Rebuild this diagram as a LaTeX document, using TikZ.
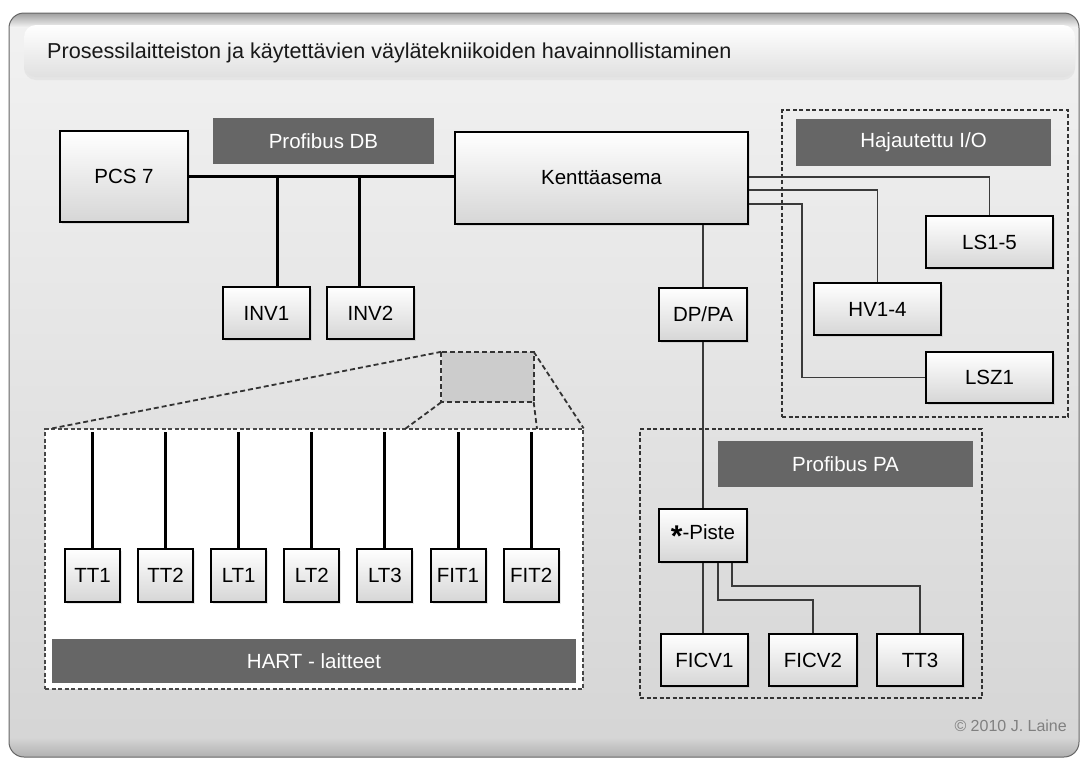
\documentclass[tikz,border=0pt]{standalone}
\usepackage{fontspec}
\setmainfont{Liberation Sans}
\usetikzlibrary{calc,shadows}
\definecolor{bannerc}{HTML}{666666}
\definecolor{boxbot}{HTML}{D6D6D6}
\definecolor{pantop}{HTML}{F2F2F2}
\definecolor{panbot}{HTML}{D5D5D5}
\definecolor{panedge}{HTML}{B0B0B0}
\definecolor{thinc}{HTML}{3A3A3A}
\definecolor{dashc}{HTML}{333333}
\begin{document}
\begin{tikzpicture}[x=1pt,y=-1pt,
  sz/.style 2 args={minimum width=#1pt, minimum height=#2pt},
  box/.style={draw=black, line width=2pt, top color=white, bottom color=boxbot, inner sep=0pt,
    drop shadow={opacity=0.18, shadow xshift=2pt, shadow yshift=-2pt},
    font=\fontsize{20.5}{24}\selectfont},
  bannerbox/.style={fill=bannerc, draw=none, inner sep=0pt, text=white,
    font=\fontsize{20.5}{24}\selectfont},
  dbox/.style={draw=dashc, line width=1.3pt, dash pattern=on 4pt off 2.5pt, inner sep=0pt},
  bus/.style={line width=3pt, black},
  thin/.style={line width=1.4pt, thinc},
  bundle/.style={line width=1.6pt, color=gray!95},
  zoomline/.style={draw=dashc, line width=1.8pt, dash pattern=on 5pt off 3pt},
]
\useasboundingbox (0,0) rectangle (1081,758);
% panel
\begin{scope}
  \clip[rounded corners=15pt] (9,13) rectangle (1079,757);
  \shade[top color=pantop, bottom color=panbot] (9,13) rectangle (1079,757);
  \shade[top color=gray!75, bottom color=pantop] (9,13) rectangle (1079,27);
  \shade[top color=panbot, bottom color=panedge] (9,738) rectangle (1079,757);
\end{scope}
\draw[rounded corners=15pt, color=gray!80!black, line width=1pt] (9,13) rectangle (1079,757);
% title bar
\fill[rounded corners=12pt, black!10] (24,27) rectangle (1075,80);
\shade[rounded corners=12pt, top color=white, bottom color=black!12] (24,25) rectangle (1075,77);
\node[anchor=base west, inner sep=0pt, text=black!90, font=\fontsize{21.6}{26}\selectfont] (title) at (47,58.5)
  {Prosessilaitteiston ja käytettävien väylätekniikoiden havainnollistaminen};

% Profibus DB part
\node[box, sz={128}{91}] (pcs) at (124,176.5) {PCS 7};
\node[bannerbox, sz={221}{46}] (pdb) at (323.5,141) {Profibus DB};
\node[box, sz={293}{92}] (kent) at (601.5,178) {Kenttäasema};
\node[box, sz={87}{52}] (inv1) at (266.5,313) {INV1};
\node[box, sz={87}{52}] (inv2) at (370.5,313) {INV2};
\draw[bus] (pcs.east) -- (pcs.east -| kent.west);
\draw[bus] ([xshift=10.5pt]inv1.north) -- ++(0,-110);
\draw[bus] ([xshift=-11.5pt]inv2.north) -- ++(0,-110);

% Hajautettu I/O
\node[dbox, sz={286}{307}] (hio) at (925,263.5) {};
\node[bannerbox, sz={255}{47}] (hiob) at (923.5,142.5) {Hajautettu I/O};
\node[box, sz={127}{52}] (ls) at (989.5,242) {LS1-5};
\node[box, sz={127}{52}] (hv) at (877.5,309) {HV1-4};
\node[box, sz={127}{51}] (lsz) at (989.5,377.5) {LSZ1};
\coordinate (c3) at (802,204);
\draw[thin] ([yshift=1pt]kent.east) -| (ls.north);
\draw[thin] ([yshift=-12pt]kent.east) -| (hv.north);
\draw[thin] ([yshift=-26pt]kent.east) -- (c3) |- (lsz.west);

% Profibus PA
\node[dbox, sz={342}{269}] (pa) at (811,563.5) {};
\node[bannerbox, sz={255}{46}] (pab) at (845.5,464) {Profibus PA};
\node[box, sz={88}{53}] (dppa) at (703,314.5) {DP/PA};
\node[box, sz={88}{53}] (piste) at (703,535.5) {\raisebox{-0.32em}{\fontsize{30}{30}\selectfont\bfseries *}-Piste};
\node[box, sz={87}{52}] (ficv1) at (704.5,660) {FICV1};
\node[box, sz={88}{52}] (ficv2) at (813,660) {FICV2};
\node[box, sz={86}{52}] (tt3) at (920,660) {TT3};
\draw[thin] (dppa.north) -- (dppa.north |- kent.south);
\draw[thin] (dppa.south) -- (piste.north);
\draw[thin] (piste.south) -- (piste.south |- ficv1.north);
\draw[thin] ([xshift=15pt]piste.south) |- ([yshift=33pt]ficv2.north) -- (ficv2.north);
\draw[thin] ([xshift=29pt]piste.south) |- ([yshift=47pt]tt3.north) -- (tt3.north);

% HART
\node[draw=dashc!90, fill=white, line width=1.3pt, dash pattern=on 4pt off 2.5pt, inner sep=0pt, sz={538}{260}] (hart) at (314,559) {};
\node[fill=black!20, draw=none, inner sep=0pt, sz={92}{50}] (gb) at (487.5,377) {};
\draw[zoomline] (gb.north west) -- ([xshift=8pt]hart.north west);
\draw[zoomline] (gb.south west) -- (405,429);
\draw[zoomline] (gb.south east) -- (537,429);
\draw[zoomline] (gb.north east) -- (hart.north east);
\draw[zoomline] (gb.north west) rectangle (gb.south east);
\foreach \k in {0,...,6} {
  \draw[bundle] ($(kent.south west)+(9+8*\k,0)$) -- ($(kent.south west)+(9+8*\k,0)$ |- gb.north);
}
\foreach \t [count=\i from 0] in {TT1,TT2,LT1,LT2,LT3,FIT1,FIT2} {
  \node[box, sz={55}{53}] (d\i) at ({92.5+73.1*\i},575.5) {\t};
  \draw[bus] (d\i.north) -- ++(0,-116);
}
\node[bannerbox, sz={524}{44}] (hartb) at (314,661) {HART - laitteet};

% copyright
\node[anchor=base east, inner sep=0pt, text=black!50, font=\fontsize{16}{19}\selectfont] (copy) at (1067,731) {© 2010 J. Laine};
\end{tikzpicture}
\end{document}
